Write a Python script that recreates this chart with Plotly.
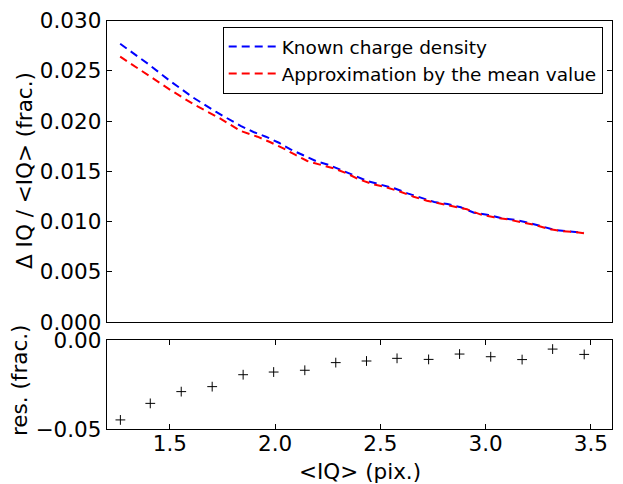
import plotly.graph_objects as go

# --- data ---
known_x = [1.264, 1.397, 1.501, 1.609, 1.718, 1.836, 1.897, 1.956, 2.018, 2.073, 2.134,
           2.193, 2.257, 2.318, 2.381, 2.437, 2.503, 2.566, 2.629, 2.693, 2.756, 2.819,
           2.882, 2.945, 3.013, 3.072, 3.140, 3.203, 3.266, 3.329, 3.392, 3.464]
known_density = [0.02770, 0.02569, 0.02400, 0.02237, 0.02094, 0.01952, 0.01892, 0.01845,
                 0.01785, 0.01719, 0.01660, 0.01603, 0.01563, 0.01513, 0.01454, 0.01404,
                 0.01364, 0.01331, 0.01281, 0.01238, 0.01195, 0.01175, 0.01142, 0.01088,
                 0.01065, 0.01035, 0.01016, 0.00989, 0.00949, 0.00916, 0.00903, 0.00889]
approx_x = [1.264, 1.397, 1.508, 1.618, 1.738, 1.836, 1.916, 1.975, 2.039, 2.097, 2.153,
            2.219, 2.279, 2.339, 2.397, 2.465, 2.528, 2.595, 2.658, 2.721, 2.784, 2.847,
            2.911, 2.974, 3.040, 3.103, 3.172, 3.235, 3.298, 3.361, 3.432, 3.468]
mean_approx = [0.02642, 0.02459, 0.02303, 0.02161, 0.02028, 0.01902, 0.01845, 0.01792,
               0.01729, 0.01663, 0.01603, 0.01563, 0.01530, 0.01481, 0.01421, 0.01371,
               0.01341, 0.01297, 0.01247, 0.01208, 0.01182, 0.01155, 0.01122, 0.01072,
               0.01042, 0.01022, 0.00996, 0.00966, 0.00926, 0.00906, 0.00893, 0.00883]

res_x = [1.265, 1.407, 1.554, 1.701, 1.848, 1.993, 2.141, 2.288,
         2.434, 2.579, 2.729, 2.876, 3.024, 3.173, 3.318, 3.468]
res_y = [-0.0449, -0.0356, -0.0290, -0.0262, -0.0195, -0.0180, -0.0170, -0.0127,
         -0.0118, -0.0103, -0.0109, -0.0079, -0.0094, -0.0110, -0.0051, -0.0081]

top_yticks = [0.000, 0.005, 0.010, 0.015, 0.020, 0.025, 0.030]
bot_yticks = [-0.05, 0.00]
xticks = [1.5, 2.0, 2.5, 3.0, 3.5]

W, H = 623, 484
FONT = "DejaVu Sans"
FS = 21.5
x_dom = [106.7 / W, 612 / W]
top_dom = [1 - 322 / H, 1 - 20.7 / H]
bot_dom = [1 - 429 / H, 1 - 340 / H]

fig = go.Figure()
fig.add_trace(go.Scatter(x=known_x, y=known_density, mode="lines",
                         name="Known charge density", legendgroup="a",
                         line=dict(color="#0000ff", width=2, dash="8px,5px"),
                         xaxis="x", yaxis="y"))
fig.add_trace(go.Scatter(x=approx_x, y=mean_approx, mode="lines",
                         name="Approximation by the mean value", legendgroup="b",
                         line=dict(color="#ff0000", width=2, dash="8px,5px"),
                         xaxis="x", yaxis="y"))
fig.add_trace(go.Scatter(x=res_x, y=res_y, mode="markers", showlegend=False,
                         marker=dict(symbol="cross-thin", size=7,
                                     line=dict(color="black", width=1)),
                         xaxis="x2", yaxis="y2"))

axis_common = dict(showline=True, linecolor="black", linewidth=1, mirror="allticks",
                   showgrid=False, zeroline=False, ticks="inside", ticklen=5,
                   tickcolor="black", automargin=False,
                   tickfont=dict(family=FONT, size=FS, color="black"))

fig.update_layout(
    template="none",
    width=W, height=H,
    margin=dict(l=0, r=0, t=0, b=0, pad=0, autoexpand=False),
    paper_bgcolor="white", plot_bgcolor="white",
    font=dict(family=FONT, color="black"),
    xaxis=dict(domain=x_dom, anchor="y", range=[1.2, 3.6], showline=True,
               linecolor="black", linewidth=1, mirror=True, showgrid=False,
               zeroline=False, ticks="", showticklabels=False, automargin=False),
    yaxis=dict(domain=top_dom, anchor="x", range=[0, 0.030], tickvals=top_yticks,
               tickformat=".3f", **axis_common),
    xaxis2=dict(domain=x_dom, anchor="y2", range=[1.2, 3.6], tickvals=xticks,
                tickformat=".1f", ticklabelstandoff=-5, **axis_common),
    yaxis2=dict(domain=bot_dom, anchor="x2", range=[-0.05, 0.0], tickvals=bot_yticks,
                tickformat=".2f", **axis_common),
    legend=dict(x=602.7 / W, y=1 - 27 / H, xanchor="right", yanchor="top",
                bordercolor="black", borderwidth=1, bgcolor="white",
                font=dict(family=FONT, size=18.5, color="black"),
                itemwidth=48, tracegroupgap=0),
    annotations=[
        dict(text="Δ IQ / <IQ> (frac.)", x=24 / W, y=1 - 171 / H, xref="paper",
             yref="paper", textangle=-90, showarrow=False,
             font=dict(family=FONT, size=FS, color="black"),
             xanchor="center", yanchor="middle"),
        dict(text="res. (frac.)", x=19 / W, y=1 - 381 / H, xref="paper",
             yref="paper", textangle=-90, showarrow=False,
             font=dict(family=FONT, size=FS, color="black"),
             xanchor="center", yanchor="middle"),
        dict(text="<IQ> (pix.)", x=360 / W, y=1 - 471.5 / H, xref="paper",
             yref="paper", showarrow=False,
             font=dict(family=FONT, size=FS, color="black"),
             xanchor="center", yanchor="middle"),
    ],
)

fig.write_html("out.html")
